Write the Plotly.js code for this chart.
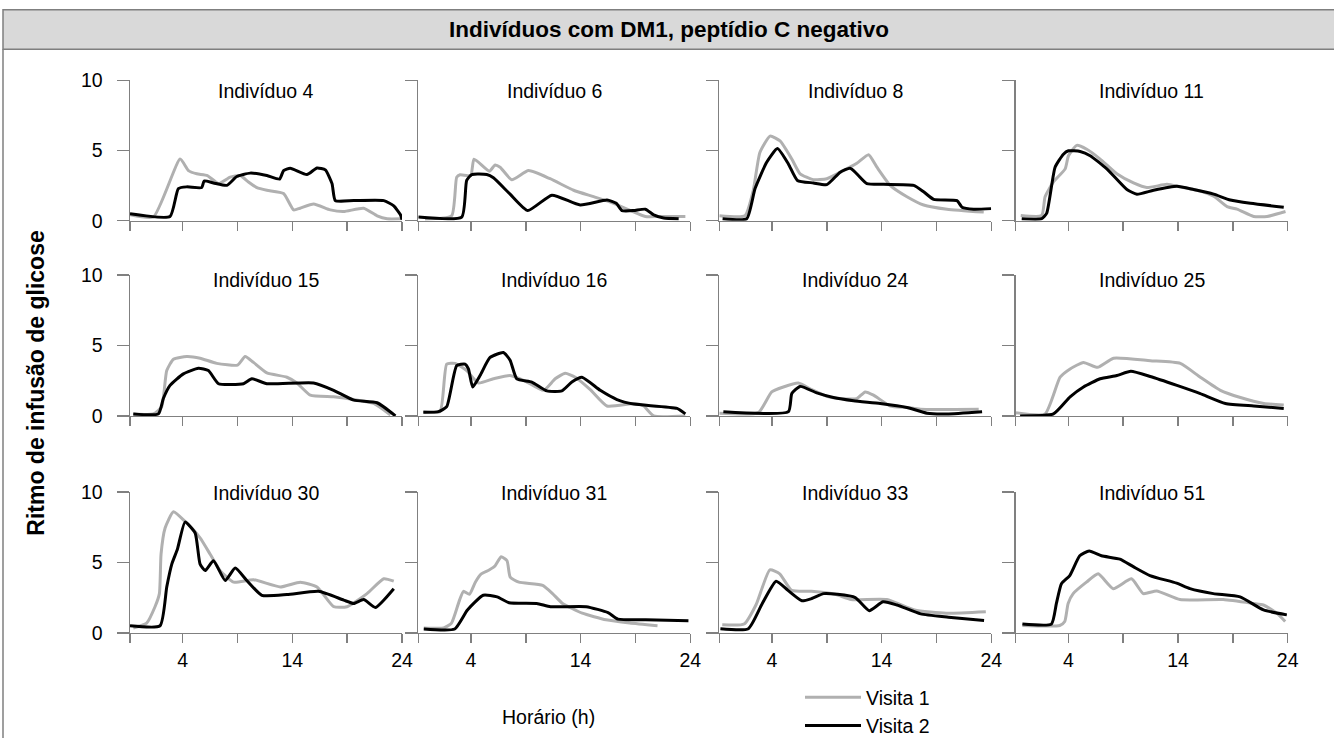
<!DOCTYPE html>
<html><head><meta charset="utf-8">
<script src="https://cdn.plot.ly/plotly-3.0.1.min.js"></script>
<style>html,body{margin:0;padding:0;background:#fff;}#chart{width:1334px;height:745px;}</style>
</head><body><div id="chart"></div>
<script>
// ---------- data ----------
const panelTitles = ['Indivíduo 4','Indivíduo 6','Indivíduo 8','Indivíduo 11','Indivíduo 15','Indivíduo 16','Indivíduo 24','Indivíduo 25','Indivíduo 30','Indivíduo 31','Indivíduo 33','Indivíduo 51'];
const seriesNames = ['Visita 1','Visita 2'];
const xTickVals = [-0.8, 4, 9, 14, 19, 24];
const xTickText = ['', '4', '', '14', '', '24'];
const yTickVals = [0, 5, 10];
const yTickText = ['0', '5', '10'];

const ind4_v1_x = [-0.8,1.33,3.77,4.53,5.29,6.26,7.27,8.33,9.25,10.0,10.77,11.68,13.2,14.12,14.7,15.94,17.46,18.68,20.5,21.73,22.64,24.0];
const ind4_v1_y = [0.42,0.26,4.39,3.57,3.34,3.22,2.64,3.1,3.22,2.76,2.36,2.17,1.94,0.77,0.89,1.19,0.77,0.65,0.89,0.35,0.14,0.14];
const ind4_v2_x = [-0.8,2.85,3.61,4.37,5.74,5.96,6.81,8.03,8.94,10.16,11.68,12.84,13.2,13.81,15.33,16.25,17.01,17.62,17.92,19.6,22.34,23.25,23.86,24.0];
const ind4_v2_y = [0.49,0.30,2.29,2.41,2.36,2.83,2.69,2.52,3.15,3.39,3.22,2.97,3.57,3.74,3.29,3.76,3.62,2.64,1.43,1.43,1.43,1.05,0.42,0.07];

const ind6_v1_x = [-0.19,2.24,2.7,3.01,3.98,4.28,5.68,6.2,6.66,7.72,9.25,11.22,13.36,15.18,17.01,18.53,19.9,21.27,23.55];
const ind6_v1_y = [0.12,0.35,3.1,3.27,3.22,4.39,3.53,3.97,3.81,2.92,3.57,2.99,2.17,1.71,1.24,0.72,0.30,0.30,0.30];
const ind6_v2_x = [-0.8,3.16,3.61,4.07,5.44,6.05,7.57,9.18,11.38,13.96,16.4,17.25,17.77,18.83,19.9,20.66,21.57,22.94];
const ind6_v2_y = [0.26,0.26,2.87,3.29,3.29,3.06,1.89,0.72,1.82,1.12,1.47,1.24,0.72,0.72,0.82,0.42,0.19,0.14];

const ind8_v1_x = [-0.8,1.54,2.3,2.9,3.83,4.74,5.81,6.57,7.78,9.0,10.52,11.74,12.81,13.57,14.78,16.31,17.83,19.96,23.31];
const ind8_v1_y = [0.35,0.35,2.17,4.86,6.03,5.68,4.39,3.34,2.92,2.99,3.57,4.09,4.70,3.81,2.52,1.71,1.12,0.82,0.61];
const ind8_v2_x = [-0.5,1.7,2.46,3.52,4.5,5.5,6.32,7.78,9.0,10.22,11.13,11.74,12.66,14.18,16.92,17.83,18.74,20.87,21.33,22.4,23.98];
const ind8_v2_y = [0.14,0.14,2.29,4.16,5.14,4.04,2.87,2.69,2.57,3.46,3.74,3.34,2.64,2.59,2.52,2.06,1.52,1.43,0.96,0.82,0.86];

const ind11_v1_x = [-0.34,1.57,1.88,2.64,3.71,4.01,4.77,5.68,6.9,8.42,9.94,11.16,12.99,14.2,15.73,17.25,18.47,19.38,20.9,22.12,23.8];
const ind11_v1_y = [0.37,0.37,1.71,2.76,3.69,4.63,5.37,5.09,4.39,3.34,2.69,2.36,2.59,2.41,2.17,1.75,1.0,0.82,0.30,0.30,0.65];
const ind11_v2_x = [-0.25,1.57,2.03,2.79,3.55,4.01,5.08,5.99,7.51,9.34,10.25,11.77,13.9,15.42,17.25,18.77,20.6,23.64];
const ind11_v2_y = [0.14,0.14,0.54,3.81,4.74,4.98,4.93,4.63,3.69,2.22,1.89,2.17,2.45,2.22,1.89,1.47,1.24,0.96];

const ind15_v1_x = [-0.5,1.33,2.09,2.55,3.16,4.38,5.59,7.11,9.0,9.7,10.46,11.68,13.51,14.42,15.64,17.77,19.6,21.42,22.94];
const ind15_v1_y = [0.14,0.14,0.65,3.21,4.02,4.21,4.09,3.72,3.6,4.21,3.79,3.05,2.74,2.33,1.47,1.35,1.16,0.88,0.07];
const ind15_v2_x = [-0.5,1.79,2.24,2.85,4.07,5.44,6.35,7.27,9.55,10.31,11.68,15.94,17.77,19.6,21.73,23.4];
const ind15_v2_y = [0.14,0.14,1.23,2.16,2.98,3.37,3.21,2.28,2.28,2.63,2.28,2.33,1.81,1.12,0.93,0.0];

const ind16_v1_x = [-0.34,1.18,1.79,2.55,3.61,4.68,6.05,7.57,8.94,10.62,11.68,12.59,13.51,14.88,16.4,18.99,19.75,20.66,23.55];
const ind16_v1_y = [0.3,0.3,3.67,3.72,3.21,2.33,2.63,2.86,2.47,1.81,2.63,3.02,2.74,1.86,0.7,0.88,0.7,0.0,0.0];
const ind16_v2_x = [-0.34,1.03,1.79,2.7,3.46,3.77,4.16,4.83,5.74,6.96,7.57,8.18,9.55,10.92,12.29,13.2,14.12,15.79,17.31,18.83,22.79,23.55];
const ind16_v2_y = [0.26,0.3,0.65,3.56,3.67,3.33,2.05,2.86,4.14,4.49,3.95,2.63,2.4,1.77,1.77,2.4,2.74,1.81,1.16,0.84,0.53,0.14];

const ind24_v1_x = [-0.8,2.76,3.98,5.04,6.41,7.63,9.15,10.22,11.74,12.5,13.26,14.79,16.31,17.53,22.85];
const ind24_v1_y = [0.19,0.23,1.7,2.05,2.33,1.86,1.35,1.23,1.23,1.7,1.47,0.7,0.6,0.47,0.47];
const ind24_v2_x = [-0.43,5.5,5.81,6.57,8.09,9.61,11.44,13.87,16.31,18.13,19.96,23.16];
const ind24_v2_y = [0.3,0.3,1.58,2.09,1.63,1.3,1.07,0.88,0.6,0.19,0.14,0.3];

const ind25_v1_x = [-0.8,1.88,3.25,4.16,5.38,6.66,8.12,11.47,14.21,16.03,17.86,19.69,21.82,23.64];
const ind25_v1_y = [0.23,0.14,2.74,3.33,3.79,3.44,4.09,3.91,3.72,2.74,1.81,1.3,0.88,0.77];
const ind25_v2_x = [-0.4,2.64,4.16,5.38,6.9,8.42,9.7,11.47,13.9,16.03,18.32,20.9,23.64];
const ind25_v2_y = [0.0,0.14,1.35,2.05,2.63,2.86,3.16,2.79,2.16,1.58,0.88,0.7,0.53];

const ind30_v1_x = [-0.5,0.72,1.48,1.88,2.03,2.4,3.16,4.22,5.59,6.51,7.42,8.64,10.46,12.9,14.73,16.25,17.77,18.99,20.81,22.34,23.25];
const ind30_v1_y = [0.35,0.7,1.86,2.79,5.58,7.44,8.6,7.91,6.74,5.58,4.42,3.6,3.77,3.26,3.6,3.26,1.86,1.86,2.79,3.84,3.67];
const ind30_v2_x = [-0.8,1.94,2.55,3.01,3.52,4.22,5.14,5.59,6.05,6.81,7.88,8.79,9.85,11.22,13.51,16.4,18.68,19.6,20.51,21.57,23.25];
const ind30_v2_y = [0.51,0.51,3.26,4.88,5.93,7.86,7.09,4.88,4.42,5.12,3.72,4.6,3.72,2.67,2.72,2.95,2.33,2.09,2.37,1.81,3.14];

const ind31_v1_x = [-0.3,1.51,2.23,2.96,3.32,3.86,4.4,4.94,5.66,6.21,6.75,7.29,7.58,8.37,10.54,11.44,12.35,14.15,16.32,18.48,21.01];
const ind31_v1_y = [0.35,0.35,0.7,2.33,2.95,2.74,3.6,4.19,4.47,4.77,5.4,5.12,3.95,3.6,3.37,2.79,2.09,1.4,0.93,0.7,0.51];
const ind31_v2_x = [-0.3,2.52,3.68,5.12,6.39,7.47,10.0,11.26,14.51,16.5,17.4,19.93,23.83];
const ind31_v2_y = [0.28,0.28,1.63,2.67,2.56,2.14,2.09,1.86,1.86,1.44,0.98,0.93,0.86];

const ind33_v1_x = [-0.53,1.46,2.54,3.81,4.71,5.79,7.6,9.77,11.22,14.47,17.0,19.89,23.5];
const ind33_v1_y = [0.58,0.63,1.98,4.47,4.19,3.02,2.95,2.74,2.37,2.37,1.63,1.4,1.51];
const ind33_v2_x = [-0.7,1.85,3.12,4.38,5.46,6.73,7.63,8.71,9.98,11.6,12.87,14.13,15.4,17.56,20.09,23.34];
const ind33_v2_y = [0.3,0.3,2.09,3.67,3.02,2.28,2.44,2.79,2.74,2.51,1.58,2.21,1.98,1.35,1.12,0.88];

const ind51_v1_x = [-0.19,3.22,3.67,3.98,4.44,5.65,6.72,8.09,9.76,10.83,12.05,14.18,18.13,20.87,21.79,23.01,23.77];
const ind51_v1_y = [0.53,0.53,0.81,2.09,2.79,3.6,4.19,3.14,3.84,2.79,2.98,2.37,2.37,2.09,1.98,1.4,0.81];
const ind51_v2_x = [-0.19,2.46,2.91,3.37,4.13,5.04,5.9,7.02,8.7,9.92,11.44,13.87,15.09,17.22,19.66,21.79,23.92];
const ind51_v2_y = [0.63,0.63,2.09,3.49,4.07,5.47,5.81,5.47,5.23,4.7,4.07,3.53,3.14,2.79,2.56,1.63,1.28];

// ---------- layout ----------
const W = 1334, H = 745;
const FONT = 'Liberation Sans, Arial, Helvetica, sans-serif';
const colLeft = [130, 418.3, 719.3, 1015.7];
const colW = 272;
const rowTop = [81.7, 279.3, 500];
const rowBottom = [224.3, 422.7, 643.3];
const titleY = [92, 285, 501];
const colors = ['#b0b0b0', '#000000'];

const panels = [
  [ind4_v1_x, ind4_v1_y, ind4_v2_x, ind4_v2_y],
  [ind6_v1_x, ind6_v1_y, ind6_v2_x, ind6_v2_y],
  [ind8_v1_x, ind8_v1_y, ind8_v2_x, ind8_v2_y],
  [ind11_v1_x, ind11_v1_y, ind11_v2_x, ind11_v2_y],
  [ind15_v1_x, ind15_v1_y, ind15_v2_x, ind15_v2_y],
  [ind16_v1_x, ind16_v1_y, ind16_v2_x, ind16_v2_y],
  [ind24_v1_x, ind24_v1_y, ind24_v2_x, ind24_v2_y],
  [ind25_v1_x, ind25_v1_y, ind25_v2_x, ind25_v2_y],
  [ind30_v1_x, ind30_v1_y, ind30_v2_x, ind30_v2_y],
  [ind31_v1_x, ind31_v1_y, ind31_v2_x, ind31_v2_y],
  [ind33_v1_x, ind33_v1_y, ind33_v2_x, ind33_v2_y],
  [ind51_v1_x, ind51_v1_y, ind51_v2_x, ind51_v2_y]
];

const px = x => x / W;
const py = y => 1 - y / H;

const traces = [];
const layout = {
  width: W, height: H,
  margin: {l: 0, r: 0, t: 0, b: 0},
  paper_bgcolor: '#ffffff', plot_bgcolor: 'rgba(0,0,0,0)',
  font: {family: FONT, size: 19.5, color: '#000'},
  showlegend: true,
  legend: {
    x: px(800), y: py(689.5), xanchor: 'left', yanchor: 'top',
    bgcolor: 'rgba(0,0,0,0)', borderwidth: 0,
    font: {family: FONT, size: 19.5, color: '#000'},
    itemwidth: 56, tracegroupgap: 0
  },
  annotations: [],
  shapes: []
};

panels.forEach((p, i) => {
  const r = Math.floor(i / 4), c = i % 4;
  const ax = i === 0 ? '' : String(i + 1);
  for (let s = 0; s < 2; s++) {
    traces.push({
      type: 'scatter', mode: 'lines',
      x: p[s * 2], y: p[s * 2 + 1],
      name: seriesNames[s],
      showlegend: i === 0,
      legendgroup: seriesNames[s],
      xaxis: 'x' + ax, yaxis: 'y' + ax,
      line: {color: colors[s], width: 3, shape: 'spline', smoothing: 0.5},
      hoverinfo: 'skip'
    });
  }
  layout['xaxis' + ax] = {
    domain: [px(colLeft[c]), px(colLeft[c] + colW)],
    range: [-0.8, 24], anchor: 'y' + ax,
    showline: true, linecolor: '#808080', linewidth: 1.5,
    ticks: 'outside', ticklen: 9, tickwidth: 1.5, tickcolor: '#808080',
    tickmode: 'array', tickvals: xTickVals, ticktext: xTickText,
    showticklabels: r === 2,
    tickfont: {family: FONT, size: 19.5, color: '#000'},
    showgrid: false, zeroline: false, fixedrange: true
  };
  layout['yaxis' + ax] = {
    domain: [py(rowBottom[r]), py(rowTop[r])],
    range: [0, 10], anchor: 'x' + ax,
    showline: true, linecolor: '#808080', linewidth: 1.5,
    ticks: 'outside', ticklen: 12, tickwidth: 1.5, tickcolor: '#808080',
    tickmode: 'array', tickvals: yTickVals, ticktext: yTickText,
    showticklabels: c === 0, ticklabelstandoff: 10,
    tickfont: {family: FONT, size: 19.5, color: '#000'},
    showgrid: false, zeroline: false, fixedrange: true
  };
  layout.annotations.push({
    xref: 'paper', yref: 'paper',
    x: px(colLeft[c] + colW / 2), y: py(titleY[r]),
    xanchor: 'center', yanchor: 'middle',
    text: panelTitles[i], showarrow: false,
    font: {family: FONT, size: 19.5, color: '#000'}
  });
});

// header bar and frame
layout.shapes.push({
  type: 'rect', xref: 'paper', yref: 'paper', layer: 'below',
  x0: px(3), x1: px(1340), y0: py(50), y1: py(10),
  fillcolor: '#d9d9d9', line: {color: '#7f7f7f', width: 1.5}
});
layout.shapes.push({
  type: 'line', xref: 'paper', yref: 'paper',
  x0: px(3), x1: px(3), y0: py(50), y1: py(750),
  line: {color: '#7f7f7f', width: 1.5}
});

layout.annotations.push({
  xref: 'paper', yref: 'paper', x: px(669), y: py(30),
  xanchor: 'center', yanchor: 'middle', showarrow: false,
  text: '<b>Indivíduos com DM1, peptídio C negativo</b>',
  font: {family: FONT, size: 22.5, color: '#000'}
});
layout.annotations.push({
  xref: 'paper', yref: 'paper', x: px(36), y: py(390),
  xanchor: 'center', yanchor: 'middle', showarrow: false, textangle: -90,
  text: '<b>Ritmo de infusão de glicose</b>',
  font: {family: FONT, size: 23, color: '#000'}
});
layout.annotations.push({
  xref: 'paper', yref: 'paper', x: px(548), y: py(729),
  xanchor: 'center', yanchor: 'middle', showarrow: false,
  text: 'Horário (h)',
  font: {family: FONT, size: 19.5, color: '#000'}
});

Plotly.newPlot('chart', traces, layout, {staticPlot: true, displayModeBar: false});
</script>
</body></html>
